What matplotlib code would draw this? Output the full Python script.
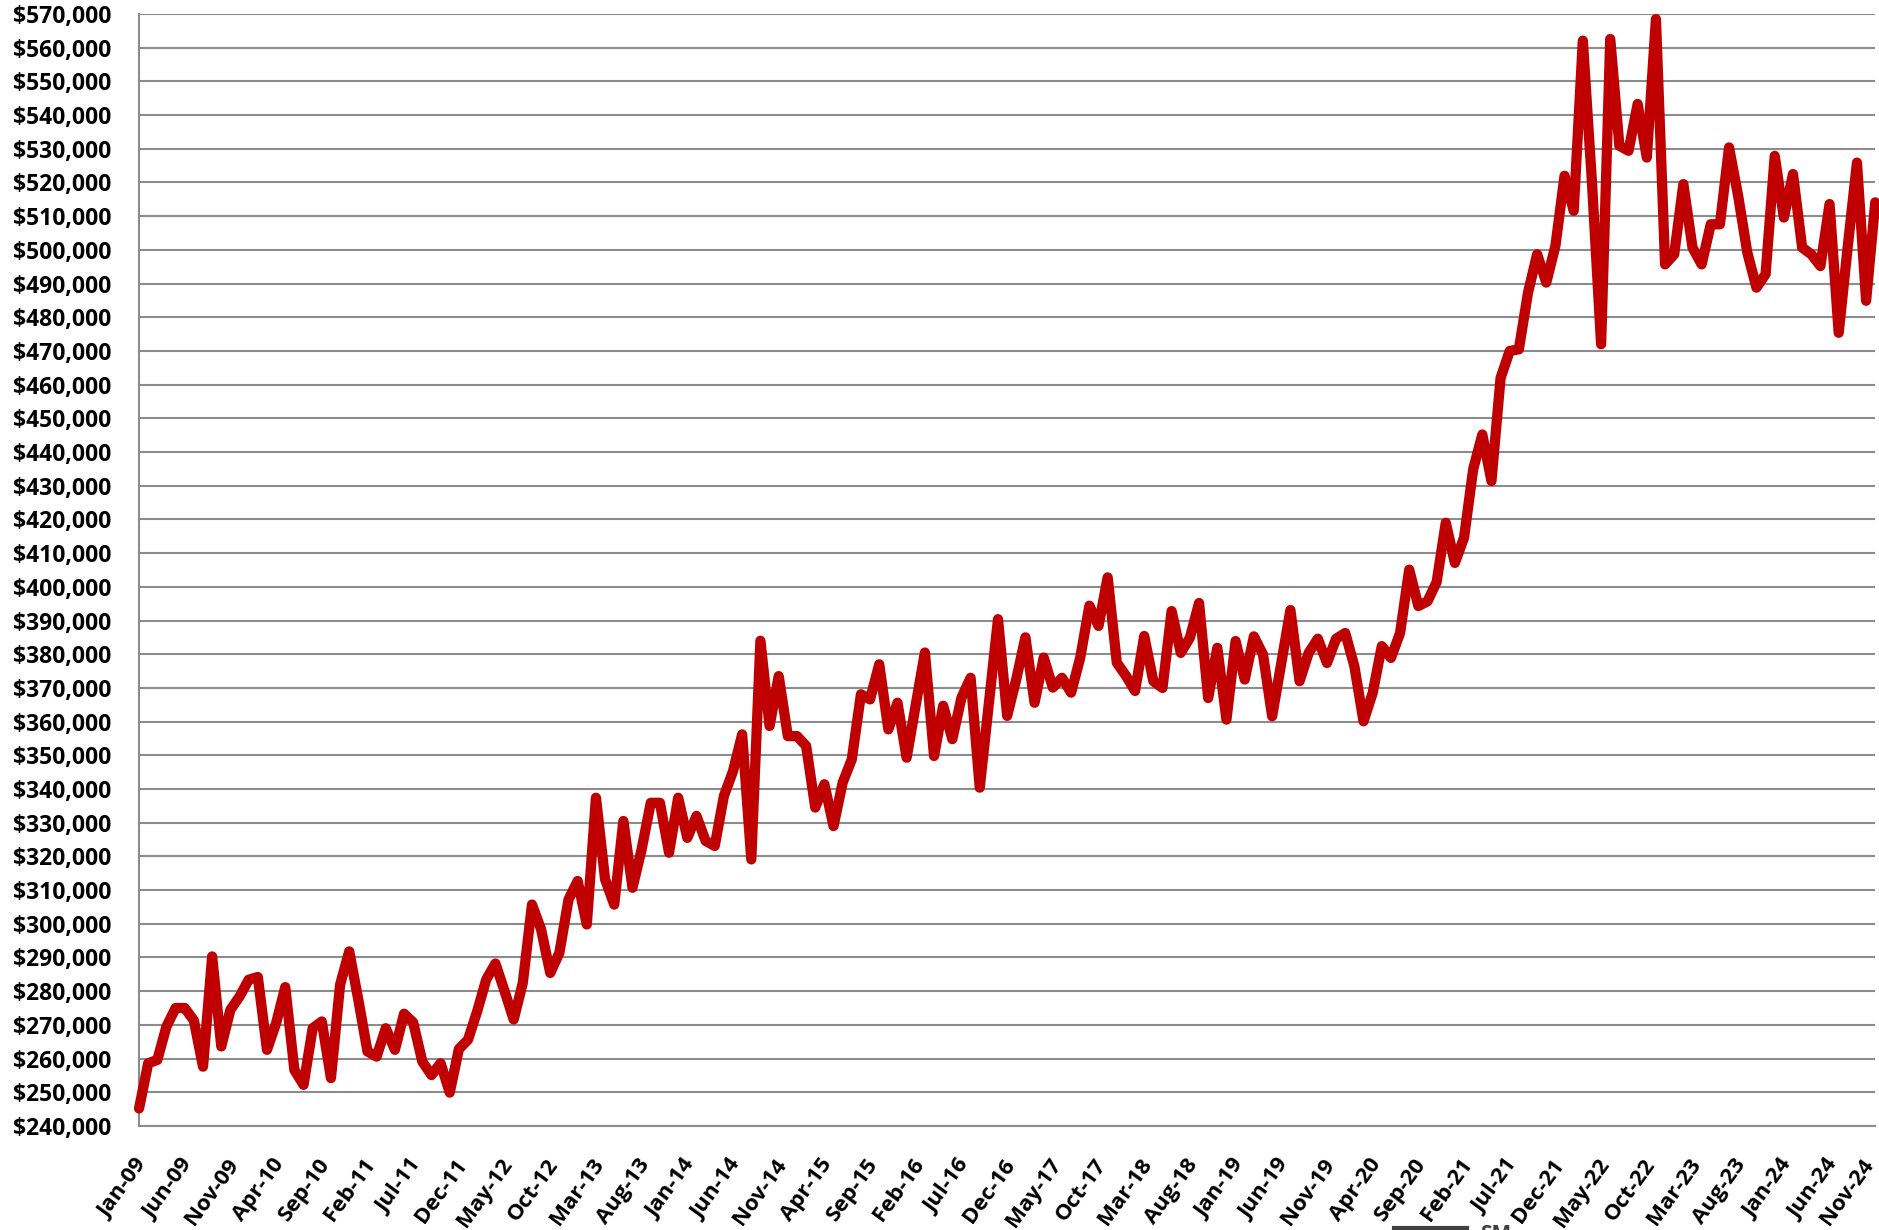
import numpy as np
import pandas as pd
import matplotlib
matplotlib.use("Agg")
import matplotlib.pyplot as plt
import matplotlib.transforms as mtransforms
from matplotlib.ticker import FuncFormatter, MultipleLocator
from matplotlib.lines import Line2D

# Monthly median price (thousands of dollars), Jan-09 .. Nov-24
prices_k = [
    245.2, 258.6, 259.6, 269.5, 275.0, 275.0, 271.3, 257.6, 290.3, 263.6,
    274.5, 278.4, 283.4, 284.2, 262.6, 270.5, 281.2, 256.6, 252.2, 269.0,
    271.0, 254.2, 281.9, 291.8, 277.4, 262.1, 260.6, 269.0, 262.6, 273.3,
    270.7, 259.1, 255.1, 258.6, 249.9, 262.8, 265.6, 274.0, 283.5, 288.2,
    280.0, 271.6, 282.5, 305.7, 298.3, 285.4, 291.4, 307.2, 312.7, 299.8,
    337.4, 313.2, 305.7, 330.5, 310.7, 322.1, 335.9, 335.9, 321.1, 337.4,
    325.5, 332.0, 324.6, 323.1, 337.9, 345.3, 356.2, 319.1, 384.0, 358.7,
    373.5, 355.7, 355.7, 352.8, 334.5, 341.4, 329.0, 341.9, 348.8, 368.1,
    366.6, 377.0, 357.7, 365.6, 349.3, 365.0, 380.5, 349.8, 364.7, 354.8,
    367.1, 373.0, 340.4, 365.4, 390.4, 361.7, 372.6, 385.0, 365.6, 379.0,
    370.1, 373.0, 368.6, 379.0, 394.4, 388.4, 402.8, 377.5, 373.6, 369.1,
    385.4, 372.0, 370.0, 392.8, 380.4, 384.9, 395.2, 367.0, 381.9, 360.6,
    383.9, 372.5, 385.3, 379.9, 361.6, 377.4, 393.1, 372.0, 380.4, 384.6,
    377.4, 384.6, 386.3, 376.4, 360.1, 368.5, 382.4, 378.9, 386.3, 405.1,
    394.3, 395.7, 401.4, 419.0, 407.1, 414.6, 434.9, 445.2, 431.4, 462.0,
    470.0, 470.5, 487.3, 498.7, 490.3, 501.2, 522.0, 511.6, 562.1, 520.0,
    472.0, 562.6, 530.9, 529.4, 543.3, 527.4, 568.5, 495.7, 498.7, 519.5,
    500.7, 495.7, 507.6, 507.6, 530.4, 516.0, 499.2, 488.8, 492.8, 527.9,
    509.6, 522.5, 500.7, 498.7, 495.2, 513.6, 475.4, 501.2, 525.9, 484.9,
    514.1,
]
prices = np.array(prices_k) * 1000
months = pd.date_range("2009-01-01", periods=len(prices), freq="MS").strftime("%b-%y")

y_min, y_max, y_step = 240000, 570000, 10000
label_every = 5

plt.rcParams["font.family"] = ["Open Sans", "DejaVu Sans"]

fig = plt.figure(figsize=(18.79, 12.30), dpi=100)
ax = fig.add_axes([0.074, 0.0846, 0.924, 0.904])

x = np.arange(len(prices))
ax.plot(x, prices, color="#C00000", linewidth=7.4, solid_joinstyle="round",
        solid_capstyle="round", clip_on=False, zorder=3)

ax.set_xlim(0, len(prices) - 1)
ax.set_ylim(y_min, y_max)
ax.yaxis.set_major_locator(MultipleLocator(y_step))
ax.yaxis.set_major_formatter(FuncFormatter(lambda v, p: f"${v:,.0f}"))
ax.grid(axis="y", color="#8c8c8c", linewidth=1.5, zorder=1)
ax.set_axisbelow(True)

tick_pos = x[::label_every]
ax.set_xticks(tick_pos)
ax.set_xticklabels(months[::label_every], rotation=54, ha="right", va="center",
                   rotation_mode="anchor", fontsize=16, fontweight="bold")
for lab in ax.get_yticklabels():
    lab.set_fontsize(16.5)
    lab.set_fontweight("bold")
ax.tick_params(axis="y", length=0, pad=20)
ax.tick_params(axis="x", length=0, pad=25)

# nudge the month labels a little to the right, the last one back inside
ticks = ax.xaxis.get_major_ticks()
for i, t in enumerate(ticks):
    dx = 4 if i < len(ticks) - 1 else -6
    off = mtransforms.ScaledTranslation(dx / 100, 0, fig.dpi_scale_trans)
    t.label1.set_transform(t.label1.get_transform() + off)

for side in ["top", "right"]:
    ax.spines[side].set_visible(False)
ax.spines["left"].set_color("#8c8c8c")
ax.spines["left"].set_linewidth(1.5)
ax.spines["bottom"].set_color("#8c8c8c")
ax.spines["bottom"].set_linewidth(1.5)

# legend fragment cut off at the bottom edge
fig.add_artist(Line2D([1394 / 1879, 1467 / 1879], [2 / 1230, 2 / 1230],
                      transform=fig.transFigure, color="#404040", linewidth=3))
fig.text(1480 / 1879, -15 / 1230, "SM", fontsize=15, fontweight="bold",
         va="bottom", ha="left", color="#404040")

fig.savefig("out.png", dpi=100)
